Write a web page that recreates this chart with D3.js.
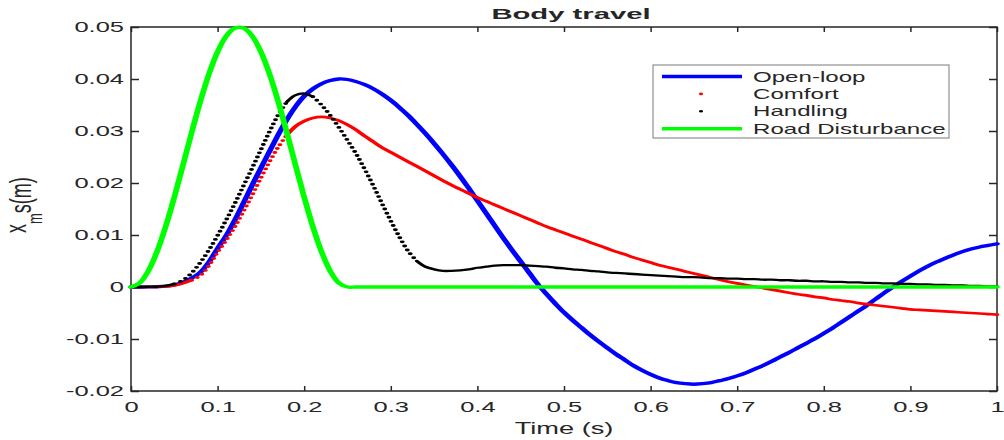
<!DOCTYPE html>
<meta charset="utf-8">
<style>
  body { margin: 0; background: #fff; }
  svg text { font-family: "Liberation Sans", Arial, Helvetica, sans-serif; fill: #262626; }
</style>
<body>
<svg width="1004" height="440"></svg>
<script src="https://cdn.jsdelivr.net/npm/d3@7"></script>
<script>
  var time = [
    0, 0.01, 0.02, 0.03, 0.04, 0.05, 0.06, 0.07, 0.08, 0.09,
    0.10, 0.11, 0.12, 0.13, 0.14, 0.15, 0.16, 0.17, 0.18, 0.19,
    0.20, 0.21, 0.22, 0.23, 0.24, 0.25, 0.26, 0.27, 0.28, 0.29,
    0.30, 0.31, 0.32, 0.33, 0.34, 0.35, 0.36, 0.37, 0.38, 0.39,
    0.40, 0.41, 0.42, 0.43, 0.44, 0.45, 0.46, 0.47, 0.48, 0.49,
    0.50, 0.51, 0.52, 0.53, 0.54, 0.55, 0.56, 0.57, 0.58, 0.59,
    0.60, 0.61, 0.62, 0.63, 0.64, 0.65, 0.66, 0.67, 0.68, 0.69,
    0.70, 0.71, 0.72, 0.73, 0.74, 0.75, 0.76, 0.77, 0.78, 0.79,
    0.80, 0.81, 0.82, 0.83, 0.84, 0.85, 0.86, 0.87, 0.88, 0.89,
    0.90, 0.91, 0.92, 0.93, 0.94, 0.95, 0.96, 0.97, 0.98, 0.99,
    1.00
  ];

  var openLoop = [
    0, 0, 0.00001, 0.00005, 0.00015, 0.0004, 0.0009, 0.0017, 0.0028, 0.0048,
    0.0074, 0.0099, 0.0129, 0.0162, 0.0196, 0.0229, 0.0261, 0.0293, 0.0322, 0.0347,
    0.0367, 0.0381, 0.0391, 0.0397, 0.0400, 0.0399, 0.0395, 0.0389, 0.0381, 0.0371,
    0.0359, 0.0345, 0.0330, 0.0313, 0.0295, 0.0276, 0.0256, 0.0235, 0.0213, 0.0190,
    0.0166, 0.0142, 0.0118, 0.0094, 0.0071, 0.0049, 0.0027, 0.0005, -0.0014, -0.0032,
    -0.0049, -0.0064, -0.0078, -0.0092, -0.0105, -0.0117, -0.0129, -0.0140, -0.0151, -0.0160,
    -0.0168, -0.0175, -0.0180, -0.0184, -0.0186, -0.0187, -0.0186, -0.0184, -0.0180, -0.0176,
    -0.0171, -0.0165, -0.0158, -0.0151, -0.0143, -0.0134, -0.0126, -0.0117, -0.0108, -0.0099,
    -0.0089, -0.0079, -0.0068, -0.0057, -0.0046, -0.0035, -0.0023, -0.0011, 0.0000, 0.0011,
    0.0021, 0.0031, 0.0040, 0.0048, 0.0055, 0.0062, 0.0068, 0.0073, 0.0077, 0.0080,
    0.0083
  ];

  var comfort = [
    0, 0, 0.00001, 0.00004, 0.00012, 0.0003, 0.0007, 0.0013, 0.0022, 0.0041,
    0.0067, 0.0090, 0.0116, 0.0146, 0.0177, 0.0210, 0.0241, 0.0269, 0.0292, 0.0309,
    0.0319, 0.0325, 0.0327, 0.0325, 0.0320, 0.0312, 0.0302, 0.0290, 0.0279, 0.0268,
    0.0259, 0.0250, 0.0241, 0.0232, 0.0223, 0.0214, 0.0205, 0.0196, 0.0188, 0.0180,
    0.0172, 0.0165, 0.0158, 0.0151, 0.0144, 0.0137, 0.0130, 0.0123, 0.0116, 0.0110,
    0.0104, 0.0098, 0.0092, 0.0086, 0.0080, 0.0074, 0.0068, 0.0063, 0.0057, 0.0052,
    0.0047, 0.0042, 0.0038, 0.0034, 0.0030, 0.0026, 0.0022, 0.0018, 0.0014, 0.0010,
    0.0007, 0.0004, 0.0001, -0.0002, -0.0005, -0.0008, -0.0011, -0.0014, -0.0016, -0.0019,
    -0.0021, -0.0024, -0.0026, -0.0028, -0.0031, -0.0033, -0.0035, -0.0037, -0.0039, -0.0041,
    -0.0043, -0.0044, -0.0045, -0.0046, -0.0047, -0.0048, -0.0049, -0.0050, -0.0051, -0.0052,
    -0.0053
  ];

  var handling = [
    0, 0, 0.00001, 0.00005, 0.0002, 0.0006, 0.0013, 0.0027, 0.0047, 0.0071,
    0.0099, 0.0129, 0.0161, 0.0195, 0.0229, 0.0264, 0.0299, 0.0331, 0.0356, 0.0369,
    0.0372, 0.0366, 0.0350, 0.0330, 0.0307, 0.0282, 0.0256, 0.0226, 0.0194, 0.0160,
    0.0127, 0.0096, 0.0069, 0.0050, 0.0039, 0.0034, 0.0031, 0.0031, 0.0032, 0.0034,
    0.0037, 0.0039, 0.0041, 0.0042, 0.0042, 0.0042, 0.0041, 0.0040, 0.0039, 0.0037,
    0.0036, 0.0034, 0.0033, 0.0031, 0.0030, 0.0028, 0.0027, 0.0026, 0.0025, 0.0024,
    0.0023, 0.0022, 0.0021, 0.0020, 0.0019, 0.0019, 0.0018, 0.0017, 0.0017, 0.0016,
    0.0016, 0.0015, 0.0015, 0.0014, 0.0014, 0.0013, 0.0013, 0.0012, 0.0012, 0.0011,
    0.0011, 0.0010, 0.0010, 0.0009, 0.0009, 0.0008, 0.0008, 0.0007, 0.0007, 0.0006,
    0.0006, 0.0005, 0.0005, 0.0004, 0.0004, 0.0003, 0.0003, 0.0002, 0.0002, 0.0001,
    0.0001
  ];

  var road = [
    0, 0.000785, 0.00309, 0.00678, 0.0116, 0.01727, 0.02343, 0.02968, 0.03565, 0.04094,
    0.04523, 0.04824, 0.04980, 0.04980, 0.04824, 0.04523, 0.04094, 0.03565, 0.02968, 0.02343,
    0.01727, 0.0116, 0.00678, 0.00309, 0.000785, 0, 0, 0, 0, 0,
    0, 0, 0, 0, 0, 0, 0, 0, 0, 0,
    0, 0, 0, 0, 0, 0, 0, 0, 0, 0,
    0, 0, 0, 0, 0, 0, 0, 0, 0, 0,
    0, 0, 0, 0, 0, 0, 0, 0, 0, 0,
    0, 0, 0, 0, 0, 0, 0, 0, 0, 0,
    0, 0, 0, 0, 0, 0, 0, 0, 0, 0,
    0, 0, 0, 0, 0, 0, 0, 0, 0, 0,
    0
  ];

  var xTicks = [0, 0.1, 0.2, 0.3, 0.4, 0.5, 0.6, 0.7, 0.8, 0.9, 1];
  var xTickLabels = ['0', '0.1', '0.2', '0.3', '0.4', '0.5', '0.6', '0.7', '0.8', '0.9', '1'];
  var yTicks = [-0.02, -0.01, 0, 0.01, 0.02, 0.03, 0.04, 0.05];
  var yTickLabels = ['-0.02', '-0.01', '0', '0.01', '0.02', '0.03', '0.04', '0.05'];

  var seriesNames = ['Open-loop', 'Comfort', 'Handling', 'Road Disturbance'];

  var svg = d3.select('svg');
  var plotLeft = 131, plotRight = 997, plotTop = 27, plotBottom = 391;
  var stretch = 1.7; // the figure is stretched wide, so text and strokes are too

  var x = d3.scaleLinear().domain([0, 1]).range([plotLeft, plotRight]);
  var y = d3.scaleLinear().domain([-0.02, 0.05]).range([plotBottom, plotTop]);
  // x in unstretched space, used inside the stretched line group
  var xs = d3.scaleLinear().domain([0, 1]).range([plotLeft / stretch, plotRight / stretch]);

  // axes box and ticks
  svg.append('rect')
    .attr('x', plotLeft).attr('y', plotTop)
    .attr('width', plotRight - plotLeft).attr('height', plotBottom - plotTop)
    .attr('fill', 'none')
    .attr('stroke', '#262626')
    .attr('stroke-width', 1.5);

  var gx = svg.append('g')
    .attr('transform', 'translate(0,' + plotBottom + ')')
    .call(d3.axisBottom(x).tickValues(xTicks)
      .tickFormat(function (d, i) { return xTickLabels[i]; })
      .tickSizeInner(-5).tickSizeOuter(0).tickPadding(10));

  var gy = svg.append('g')
    .attr('transform', 'translate(' + plotLeft + ',0)')
    .call(d3.axisLeft(y).tickValues(yTicks)
      .tickFormat(function (d, i) { return yTickLabels[i]; })
      .tickSizeInner(-8).tickSizeOuter(0));

  svg.append('g')
    .attr('transform', 'translate(0,' + plotTop + ')')
    .call(d3.axisTop(x).tickValues(xTicks).tickFormat('').tickSizeInner(-5).tickSizeOuter(0));

  svg.append('g')
    .attr('transform', 'translate(' + plotRight + ',0)')
    .call(d3.axisRight(y).tickValues(yTicks).tickFormat('').tickSizeInner(-8).tickSizeOuter(0));

  svg.selectAll('.domain').remove();
  svg.selectAll('.tick line').attr('stroke', '#262626').attr('stroke-width', 1.5);

  gx.selectAll('text')
    .style('font-size', '15px')
    .attr('fill', '#262626')
    .attr('transform', 'scale(' + stretch + ',1)');

  gy.selectAll('text')
    .style('font-size', '15px')
    .attr('fill', '#262626')
    .attr('x', -7 / stretch)
    .attr('transform', 'scale(' + stretch + ',1)');

  // lines
  var line = d3.line()
    .curve(d3.curveCatmullRom.alpha(0.5))
    .x(function (d) { return xs(d[0]); })
    .y(function (d) { return y(d[1]); });

  var lines = svg.append('g').attr('transform', 'scale(' + stretch + ',1)');

  // splits a series into solid and dotted runs (the '.' marker looks dotted where steep)
  function runs(values, dotted) {
    var out = [], cur = null;
    time.forEach(function (t, i) {
      var dot = dotted.some(function (r) { return t > r[0] - 1e-9 && t < r[1] + 1e-9; });
      if (!cur || cur.dot !== dot) {
        var prev = cur ? cur.pts[cur.pts.length - 1] : null;
        cur = {dot: dot, pts: prev ? [prev] : []};
        out.push(cur);
      }
      cur.pts.push([t, values[i]]);
    });
    return out;
  }

  function drawSeries(values, color, width, dotted) {
    var g = lines.append('g');
    runs(values, dotted).forEach(function (r) {
      var p = g.append('path')
        .attr('d', line(r.pts))
        .attr('fill', 'none')
        .attr('stroke', color)
        .attr('stroke-linejoin', 'round')
        .attr('stroke-linecap', 'round');
      if (r.dot) {
        p.attr('stroke-width', 2.9).attr('stroke-dasharray', '0 4.3');
      } else {
        p.attr('stroke-width', width);
      }
    });
  }

  drawSeries(openLoop, '#0000ff', 3.3, []);
  drawSeries(comfort, '#ff0000', 2.7, [[0.08, 0.18]]);
  drawSeries(handling, '#000000', 2.3, [[0.06, 0.18], [0.22, 0.33]]);
  drawSeries(road, '#00ff00', 3.4, []);

  // title and labels
  svg.append('text')
    .attr('transform', 'translate(571,19) scale(1.95,1)')
    .attr('text-anchor', 'middle')
    .style('font-size', '15px')
    .style('font-weight', 'bold')
    .attr('fill', '#000')
    .text('Body travel');

  svg.append('text')
    .attr('transform', 'translate(564,434) scale(' + stretch + ',1)')
    .attr('text-anchor', 'middle')
    .style('font-size', '16px')
    .text('Time (s)');

  var ylab = svg.append('text')
    .attr('transform', 'translate(31,233) rotate(-90) scale(1,1.6)')
    .style('font-size', '18px');
  ylab.append('tspan').attr('dy', -3).text('x');
  ylab.append('tspan').attr('dy', 10).style('font-size', '13px').text('m');
  ylab.append('tspan').attr('dy', -7).text('s');
  ylab.append('tspan').text('(m)');

  // legend
  var legend = svg.append('g');
  legend.append('rect')
    .attr('x', 653).attr('y', 65)
    .attr('width', 296).attr('height', 73)
    .attr('fill', '#fff')
    .attr('stroke', '#7a7a7a')
    .attr('stroke-width', 1);

  var legendStyle = [
    {color: '#0000ff', kind: 'line', width: 3.3},
    {color: '#ff0000', kind: 'dot'},
    {color: '#000000', kind: 'dot'},
    {color: '#00ff00', kind: 'line', width: 3.4}
  ];

  seriesNames.forEach(function (name, i) {
    var cy = 76.5 + i * 17.4;
    var s = legendStyle[i];
    if (s.kind === 'line') {
      legend.append('line')
        .attr('x1', 662).attr('x2', 742)
        .attr('y1', cy).attr('y2', cy)
        .attr('stroke', s.color)
        .attr('stroke-width', s.width);
    } else {
      legend.append('ellipse')
        .attr('cx', 701).attr('cy', cy)
        .attr('rx', 2).attr('ry', 1.3)
        .attr('fill', s.color);
    }
    legend.append('text')
      .attr('transform', 'translate(753,' + (cy + 5) + ') scale(1.72,1)')
      .style('font-size', '14px')
      .attr('fill', '#000')
      .text(name);
  });
</script>
</body>
